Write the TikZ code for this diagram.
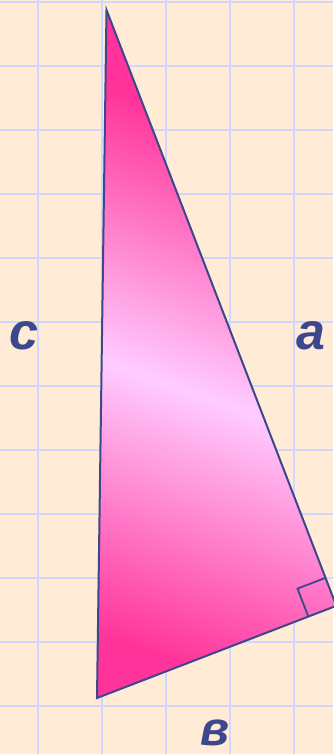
\documentclass[tikz,border=0pt]{standalone}
\usepackage{fontspec}
\setmainfont{Liberation Sans}
\usetikzlibrary{calc}
\definecolor{bgpeach}{HTML}{FFEBD6}
\definecolor{gridblue}{HTML}{CCD8FF}
\definecolor{edgeblue}{HTML}{3C478C}
\definecolor{pinkdeep}{HTML}{FF3399}
\definecolor{pinklight}{HTML}{FFCCFF}
\pgfdeclareverticalshading{trishade}{100bp}{color(0bp)=(pinkdeep); color(33.8bp)=(pinkdeep); color(50bp)=(pinklight); color(66.2bp)=(pinkdeep); color(100bp)=(pinkdeep)}
\tikzset{
  gridline/.style={draw=gridblue, line width=2pt},
  edge/.style={draw=edgeblue, line width=2pt, line join=miter},
  rightmark/.style={draw=edgeblue, line width=1.8pt},
  lbl/.style={text=edgeblue, inner sep=0pt, font=\fontsize{52}{52}\selectfont\bfseries\itshape},
}
\begin{document}
\begin{tikzpicture}[x=1pt, y=-1pt]
  \useasboundingbox (0,0) rectangle (333,754);
  \fill[bgpeach] (0,0) rectangle (333,754);
  \foreach \gx in {38,102,166,230,294} \draw[gridline] (\gx,0) -- (\gx,754);
  \foreach \gy in {2,66,130,194,258,322,386,450,514,578,642,706} \draw[gridline] (0,\gy) -- (333,\gy);
  \coordinate (A) at (106.5,10);
  \coordinate (B) at (97,698);
  \coordinate (C) at (336.3,605.8);
  \begin{scope}
    \clip (A) -- (B) -- (C) -- cycle;
    \shade[shading=trishade, shading angle=-19.3] (-184,1) rectangle (616,801);
  \end{scope}
  \draw[edge] (A) -- (B) -- (C) -- cycle;
  \coordinate (P1) at ($(C)!30pt!(A)$);
  \coordinate (P2) at ($(C)!30pt!(B)$);
  \coordinate (P3) at ($(P1)+(P2)-(C)$);
  \draw[rightmark] (P1) -- (P3) -- (P2);
  \node[lbl] (lc) at (24,336) {c};
  \node[lbl] (la) at (311,336) {a};
  \node[lbl, font=\fontsize{48}{48}\selectfont\bfseries\itshape] (lb) at (215,733) {в};
\end{tikzpicture}
\end{document}
